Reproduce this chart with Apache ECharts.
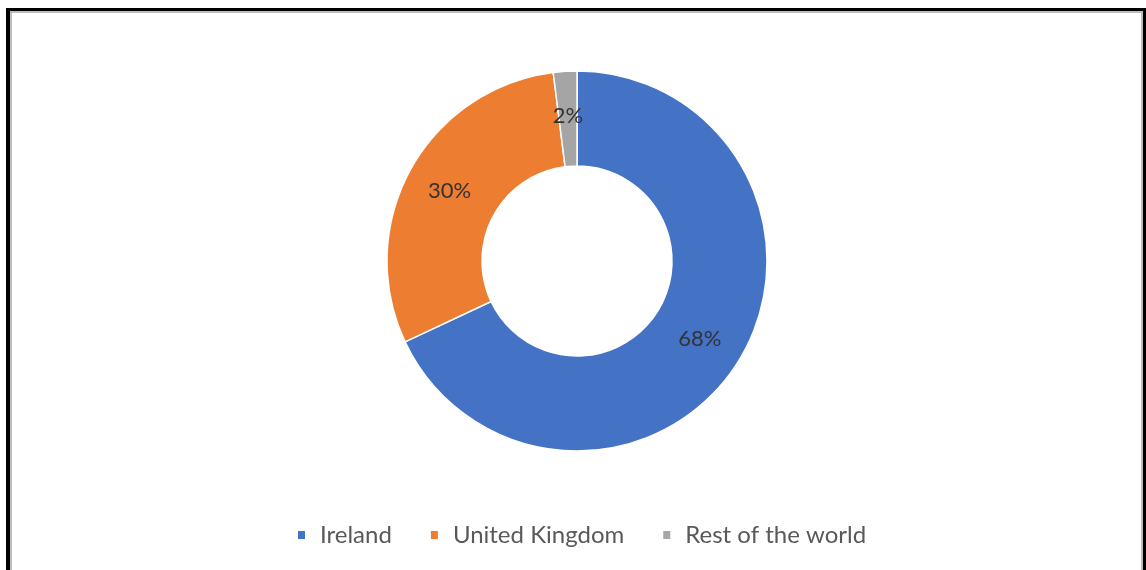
<!DOCTYPE html>
<html>
<head>
<meta charset="utf-8">
<script src="https://cdn.jsdelivr.net/npm/echarts@6/dist/echarts.min.js"></script>
<style>
  html, body { margin: 0; padding: 0; background: #fff; }
  #wrap { position: relative; width: 1146px; height: 570px; overflow: hidden; }
  #frame {
    position: absolute; left: 6px; top: 8px; width: 1133px; height: 600px;
    border-left: 4px solid #000; border-top: 3px solid #000; border-right: 4px solid #000;
    box-shadow: inset 2px 2px 0 #bdbdbd, inset -2px 0 0 #bdbdbd;
  }
  #chart { position: absolute; left: 0; top: 0; width: 1146px; height: 570px; }
</style>
</head>
<body>
<div id="wrap">
  <div id="frame"></div>
  <div id="chart"></div>
</div>
<script>
// Share of total by market
const categories = ['Ireland', 'United Kingdom', 'Rest of the world'];
const shares = [68, 30, 2];
const colors = ['#4472C4', '#ED7D31', '#A5A5A5'];

const chart = echarts.init(document.getElementById('chart'));
chart.setOption({
  animation: false,
  color: colors,
  legend: {
    data: categories,
    bottom: 18,
    left: 291,
    icon: 'rect',
    itemWidth: 9,
    itemHeight: 10,
    itemGap: 37,
    textStyle: { fontFamily: 'Lato', fontSize: 24, color: '#595959', padding: [0, 0, 0, 9] }
  },
  series: [{
    type: 'pie',
    center: [577, 261],
    radius: [95, 190],
    startAngle: 90,
    clockwise: true,
    avoidLabelOverlap: false,
    itemStyle: { borderColor: '#fff', borderWidth: 1.5 },
    label: {
      show: true,
      position: 'inner',
      formatter: '{c}%',
      fontFamily: 'Lato',
      fontSize: 22,
      color: '#333333'
    },
    labelLine: { show: false },
    data: categories.map((name, i) => ({ name, value: shares[i] }))
  }]
});
</script>
</body>
</html>
